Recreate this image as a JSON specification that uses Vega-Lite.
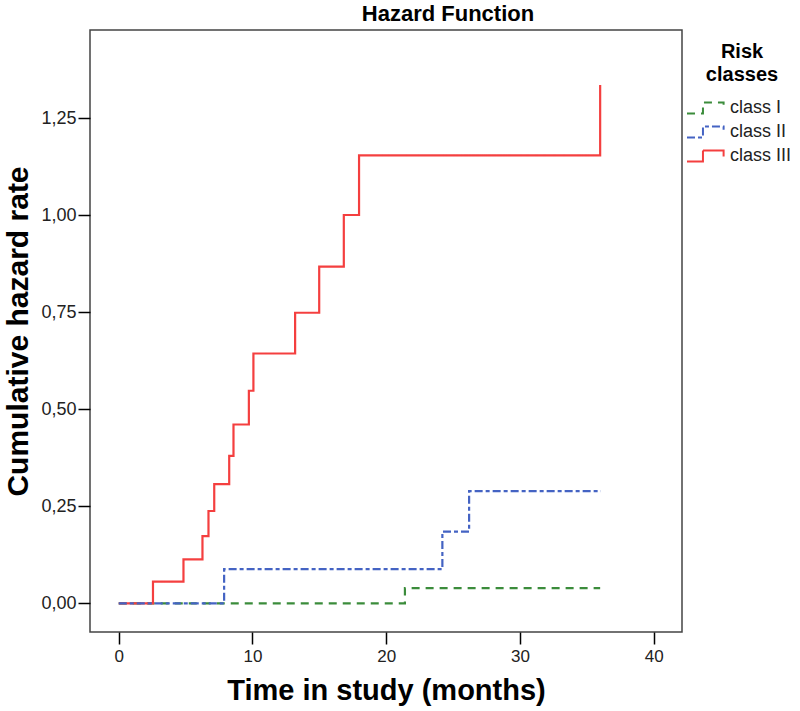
{
  "$schema": "https://vega.github.io/schema/vega-lite/v6.json",
  "width": 592,
  "height": 602,
  "autosize": {"type": "none"},
  "padding": {"left": 90, "top": 30, "right": 118, "bottom": 79},
  "background": "white",
  "title": {"text": "Hazard Function", "fontSize": 22, "fontWeight": "bold", "color": "black", "anchor": "middle", "dx": 62, "offset": 4},
  "data": {"values": [
    {"cls": "class III", "time": 0, "hazard": 0},
    {"cls": "class III", "time": 2.56, "hazard": 0.056},
    {"cls": "class III", "time": 4.84, "hazard": 0.113},
    {"cls": "class III", "time": 6.26, "hazard": 0.173},
    {"cls": "class III", "time": 6.71, "hazard": 0.238},
    {"cls": "class III", "time": 7.14, "hazard": 0.307},
    {"cls": "class III", "time": 8.26, "hazard": 0.38},
    {"cls": "class III", "time": 8.58, "hazard": 0.461},
    {"cls": "class III", "time": 9.73, "hazard": 0.548},
    {"cls": "class III", "time": 10.07, "hazard": 0.644},
    {"cls": "class III", "time": 13.19, "hazard": 0.749},
    {"cls": "class III", "time": 14.99, "hazard": 0.868},
    {"cls": "class III", "time": 16.83, "hazard": 1.001},
    {"cls": "class III", "time": 17.97, "hazard": 1.155},
    {"cls": "class III", "time": 36.0, "hazard": 1.336},
    {"cls": "class II", "time": 0, "hazard": 0},
    {"cls": "class II", "time": 7.88, "hazard": 0.088},
    {"cls": "class II", "time": 24.2, "hazard": 0.185},
    {"cls": "class II", "time": 26.2, "hazard": 0.289},
    {"cls": "class II", "time": 36.05, "hazard": 0.289},
    {"cls": "class I", "time": 0, "hazard": 0},
    {"cls": "class I", "time": 21.4, "hazard": 0.039},
    {"cls": "class I", "time": 36.0, "hazard": 0.039}
  ]},
  "encoding": {
    "x": {
      "field": "time", "type": "quantitative",
      "scale": {"domain": [-2.15, 42.12], "nice": false, "zero": false},
      "axis": {"values": [0, 10, 20, 30, 40], "title": "Time in study (months)", "titlePadding": 12, "titleFontSize": 29, "labelFontSize": 17, "labelPadding": 4}
    },
    "y": {
      "field": "hazard", "type": "quantitative",
      "scale": {"domain": [-0.074, 1.478], "nice": false, "zero": false},
      "axis": {"values": [0, 0.25, 0.5, 0.75, 1, 1.25], "labelExpr": "replace(format(datum.value, '.2f'), '.', ',')", "title": "Cumulative hazard rate", "titlePadding": 7, "titleFontSize": 30, "labelFontSize": 18, "labelPadding": 2}
    },
    "color": {
      "field": "cls", "type": "nominal",
      "scale": {"domain": ["class I", "class II", "class III"], "range": ["#3b8c3b", "#4463c3", "#f43f3f"]},
      "legend": {"title": ["Risk", "classes"]}
    },
    "strokeDash": {
      "field": "cls", "type": "nominal",
      "scale": {"domain": ["class I", "class II", "class III"], "range": [[8, 6], [8, 3, 4, 3], [1, 0]]},
      "legend": {"title": ["Risk", "classes"]}
    }
  },
  "layer": [
    {"transform": [{"filter": "datum.cls === 'class I'"}], "mark": {"type": "line", "interpolate": "step-after", "strokeWidth": 2.2}},
    {"transform": [{"filter": "datum.cls === 'class III'"}], "mark": {"type": "line", "interpolate": "step-after", "strokeWidth": 2.2}},
    {"transform": [{"filter": "datum.cls === 'class II'"}], "mark": {"type": "line", "interpolate": "step-after", "strokeWidth": 2.2}}
  ],
  "config": {
    "font": "Liberation Sans",
    "view": {"stroke": "#444444", "strokeWidth": 1.5},
    "axis": {
      "domain": false, "grid": false, "ticks": true, "tickSize": 12, "tickColor": "black", "tickWidth": 1.5,
      "labelColor": "#222222", "labelFont": "Liberation Sans",
      "titleFont": "Liberation Sans", "titleFontWeight": "bold", "titleColor": "black"
    },
    "legend": {
      "orient": "none", "legendX": 602, "legendY": 12, "padding": 0,
      "symbolType": "M-1.5,0.46 H-0.17 V-0.46 H1.55 V0.04",
      "symbolSize": 576, "symbolStrokeWidth": 2, "symbolFillColor": "transparent",
      "labelFontSize": 18, "labelColor": "#222222", "labelOffset": 12, "rowPadding": 1,
      "titleFontSize": 20, "titleFontWeight": "bold", "titleColor": "black", "titleLineHeight": 23,
      "titleAnchor": "middle", "titleAlign": "center", "titlePadding": 10
    }
  }
}
